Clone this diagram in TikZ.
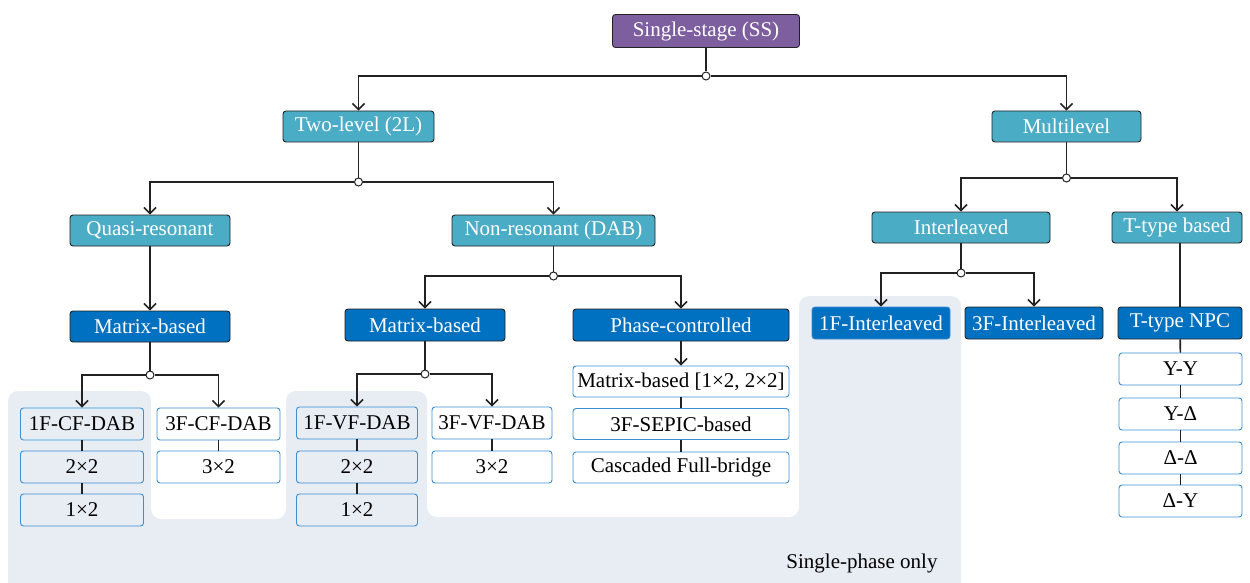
\documentclass[tikz,border=0pt]{standalone}
\usepackage{fontspec}
\setmainfont{Liberation Serif}
\usetikzlibrary{arrows.meta}
\definecolor{ssPurple}{HTML}{7D5F9F}
\definecolor{aqua}{HTML}{4BACC6}
\definecolor{dblue}{HTML}{0070C0}
\definecolor{sbord}{HTML}{3A8FD4}
\definecolor{bggray}{HTML}{E8ECF3}
\definecolor{lineC}{HTML}{222222}
\tikzset{
 base/.style={rounded corners=3pt, inner sep=0pt, font=\fontsize{21}{24}\selectfont, line width=0.9pt, minimum height=31pt},
 rootbox/.style={base, fill=ssPurple, draw=lineC, text=white},
 aquabox/.style={base, fill=aqua, draw=lineC, text=white},
 bluebox/.style={base, fill=dblue, draw=lineC, text=white},
 subbox/.style={base, fill=white, draw=sbord, text=black, minimum height=32pt},
 graybox/.style={base, fill=bggray, draw=sbord, text=black, minimum height=32pt},
 junc/.style={circle, draw=lineC, fill=white, line width=1pt, minimum size=8pt, inner sep=0pt},
 conn/.style={draw=lineC, line width=1.6pt},
 arr/.style={conn, -{Straight Barb[length=6pt,width=12pt]}},
}
\begin{document}
\begin{tikzpicture}[x=1pt,y=-1pt]
\useasboundingbox (0,0) rectangle (1250,583);
% background regions
\fill[bggray, rounded corners=10pt] (8,391) rectangle (151,600);
\fill[bggray, rounded corners=10pt] (286,391) rectangle (427,600);
\fill[bggray, rounded corners=10pt] (799,296) rectangle (961,600);
\fill[bggray] (8,480) rectangle (961,600);
\fill[white, rounded corners=10pt] (151,460) rectangle (286,519);
\fill[white, rounded corners=10pt] (427,460) rectangle (799,517);

% nodes
\node[rootbox, minimum width=187pt, minimum height=33pt] (ss) at (706,31) {Single-stage (SS)};
\node[aquabox, minimum width=151pt] (tl) at (358.5,126.5) {Two-level (2L)};
\node[aquabox, minimum width=149pt] (ml) at (1066.5,126.5) {Multilevel};
\node[aquabox, minimum width=160pt] (qr) at (150,230.5) {Quasi-resonant};
\node[aquabox, minimum width=203pt] (nr) at (553.5,230.5) {Non-resonant (DAB)};
\node[aquabox, minimum width=178pt] (il) at (961,227.5) {Interleaved};
\node[aquabox, minimum width=130pt] (tb) at (1177,227.5) {T-type based};
\node[bluebox, minimum width=160pt] (mb1) at (150,326.5) {Matrix-based};
\node[bluebox, minimum width=160pt, minimum height=32pt] (mb2) at (425,325) {Matrix-based};
\node[bluebox, minimum width=216pt, minimum height=32pt] (pc) at (681,325) {Phase-controlled};
\node[bluebox, draw=sbord, minimum width=138pt, minimum height=32pt] (fi1) at (881,323) {1F-Interleaved};
\node[bluebox, minimum width=138pt, minimum height=32pt] (fi3) at (1034,323) {3F-Interleaved};
\node[bluebox, minimum width=124pt, minimum height=32pt] (npc) at (1180,323) {T-type NPC};

\node[graybox, minimum width=123pt] (cf1) at (82,424) {1F-CF-DAB};
\node[graybox, minimum width=123pt] (cf1a) at (82,467) {2×2};
\node[graybox, minimum width=123pt] (cf1b) at (82,510) {1×2};
\node[subbox, minimum width=123pt] (cf3) at (218.5,424) {3F-CF-DAB};
\node[subbox, minimum width=123pt] (cf3a) at (218.5,467) {3×2};

\node[graybox, minimum width=121pt] (vf1) at (357,423) {1F-VF-DAB};
\node[graybox, minimum width=121pt] (vf1a) at (357,467) {2×2};
\node[graybox, minimum width=121pt] (vf1b) at (357,510) {1×2};
\node[subbox, minimum width=120pt] (vf3) at (492,423) {3F-VF-DAB};
\node[subbox, minimum width=120pt] (vf3a) at (492,467) {3×2};

\node[subbox, minimum width=216pt, minimum height=31pt] (p1) at (681,381.5) {Matrix-based [1×2, 2×2]};
\node[subbox, minimum width=216pt, minimum height=31pt] (p2) at (681,424) {3F-SEPIC-based};
\node[subbox, minimum width=216pt, minimum height=31pt] (p3) at (681,467.5) {Cascaded Full-bridge};

\node[subbox, minimum width=123pt] (y1) at (1180.5,369) {Y-Y};
\node[subbox, minimum width=123pt] (y2) at (1180.5,414) {Y-Δ};
\node[subbox, minimum width=123pt] (y3) at (1180.5,458) {Δ-Δ};
\node[subbox, minimum width=123pt] (y4) at (1180.5,501) {Δ-Y};

\node[font=\fontsize{21}{24}\selectfont, text=black, inner sep=0pt] (spo) at (862,563) {Single-phase only};

% junctions
\node[junc] (j0) at (706,76) {};
\node[junc] (j1) at (358.5,182) {};
\node[junc] (j2) at (1066.5,178) {};
\node[junc] (j3) at (150,375) {};
\node[junc] (j4) at (553.5,276) {};
\node[junc] (j5) at (425,374) {};
\node[junc] (j6) at (961,273) {};

% connectors
\draw[conn] (ss) -- (j0);
\draw[arr] (j0) -| (tl.north);
\draw[arr] (j0) -| (ml.north);
\draw[conn] (tl) -- (j1);
\draw[arr] (j1) -| (qr.north);
\draw[arr] (j1) -| (nr.north);
\draw[conn] (ml) -- (j2);
\draw[arr] (j2) -| (il.north);
\draw[arr] (j2) -| (tb.north);
\draw[arr] (qr) -- (mb1);
\draw[conn] (mb1) -- (j3);
\draw[arr] (j3) -| (cf1.north);
\draw[arr] (j3) -| (cf3.north);
\draw[conn] (nr) -- (j4);
\draw[arr] (j4) -| (mb2.north);
\draw[arr] (j4) -| (pc.north);
\draw[conn] (mb2) -- (j5);
\draw[arr] (j5) -| (vf1.north);
\draw[arr] (j5) -| (vf3.north);
\draw[arr] (pc) -- (p1);
\draw[conn] (p1) -- (p2);
\draw[conn] (p2) -- (p3);
\draw[conn] (il) -- (j6);
\draw[arr] (j6) -| (fi1.north);
\draw[arr] (j6) -| (fi3.north);
\draw[conn] (tb.south -| npc.north) -- (npc.north);
\draw[conn] (npc) -- (y1);
\draw[conn] (y1) -- (y2);
\draw[conn] (y2) -- (y3);
\draw[conn] (y3) -- (y4);
\draw[conn] (cf1) -- (cf1a);
\draw[conn] (cf1a) -- (cf1b);
\draw[conn] (cf3) -- (cf3a);
\draw[conn] (vf1) -- (vf1a);
\draw[conn] (vf1a) -- (vf1b);
\draw[conn] (vf3) -- (vf3a);
\end{tikzpicture}
\end{document}
